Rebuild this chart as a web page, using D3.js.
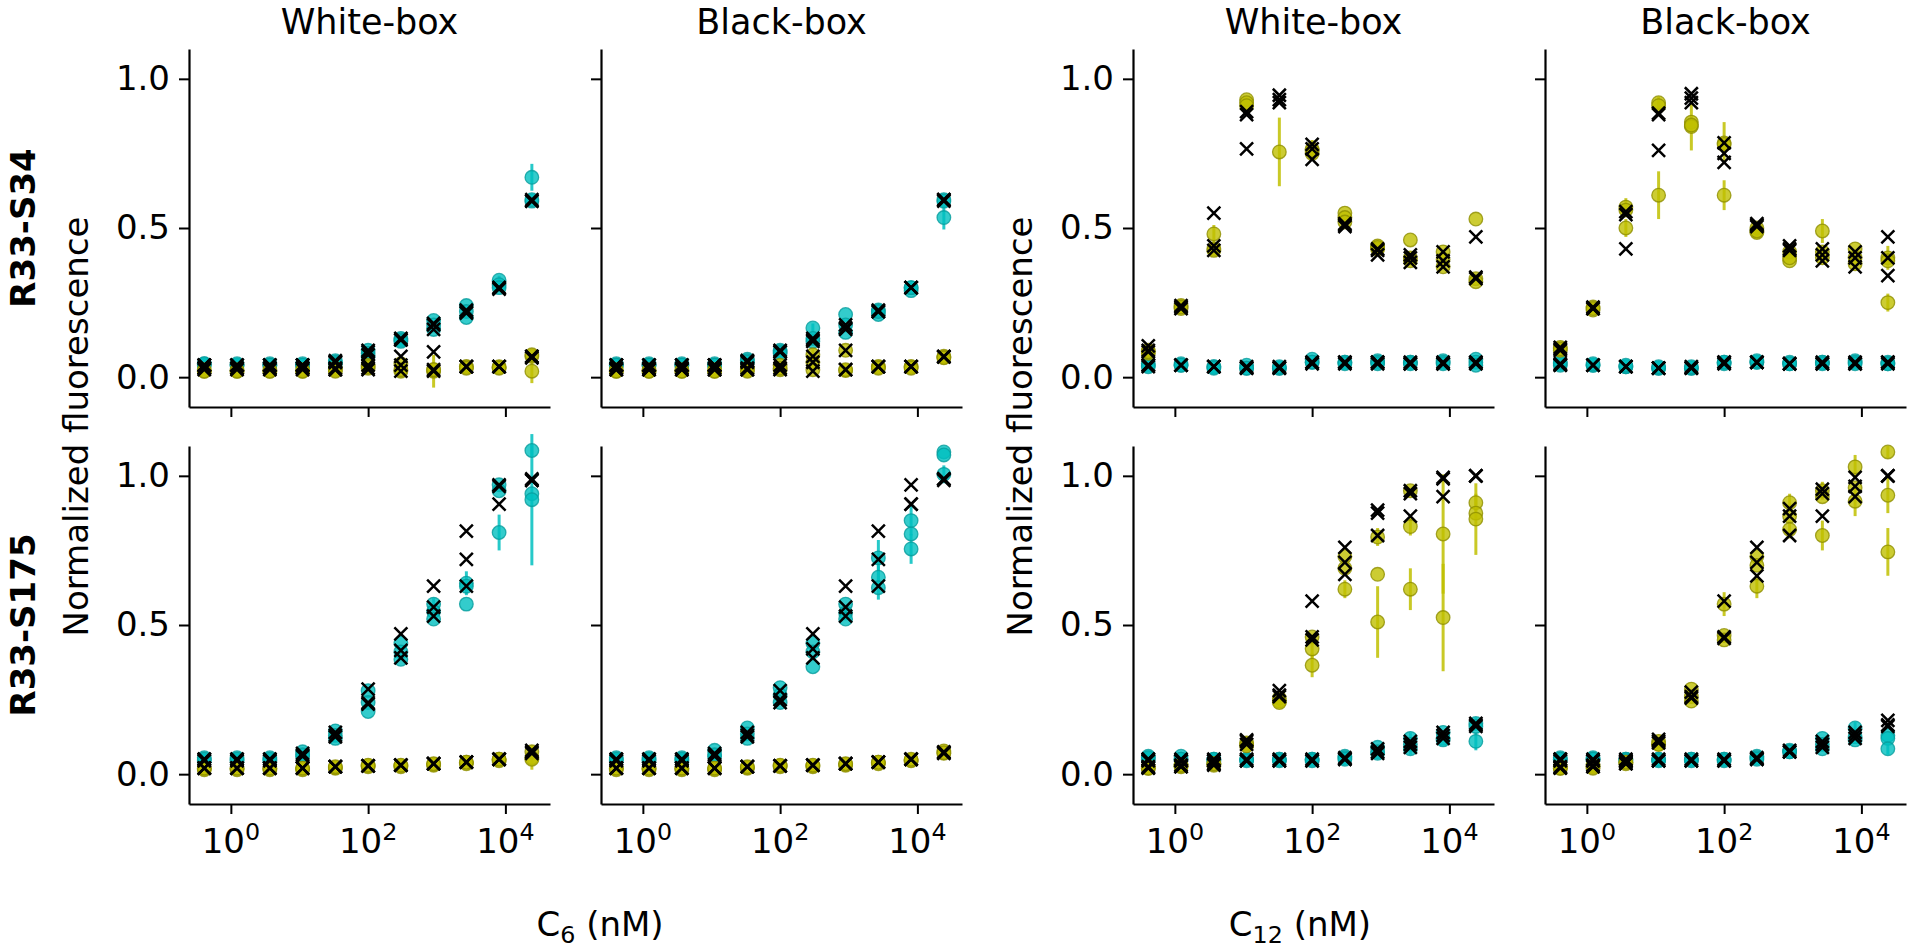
<!DOCTYPE html>
<html>
<head>
<meta charset="utf-8">
<script src="https://cdn.jsdelivr.net/npm/d3@7"></script>
<style>
  body { margin: 0; background: #fff; }
  text { font-family: "DejaVu Sans", sans-serif; fill: #000; }
</style>
</head>
<body>
<svg id="chart" width="1913" height="951"></svg>
<script>
// concentrations (nM), 3-fold dilution series
const conc = [0.41, 1.23, 3.7, 11.1, 33.3, 100, 300, 900, 2700, 8100, 24300];
const yTicks = [0, 0.5, 1.0];
const xTicks = [1, 100, 10000];
const colTitles = ["White-box", "Black-box", "White-box", "Black-box"];
const rowLabels = ["R33-S34", "R33-S175"];
const xLabels = [["C", "6"], ["C", "12"]];

// ---- R33-S34, C6, white-box
const s34c6wbCyan = [[0.045,0.04,0.045],[0.04,0.04,0.045],[0.045,0.04,0.04],[0.04,0.045,0.04],[0.055,0.05,0.045],[0.09,0.08,0.07],[0.13,0.125,0.12],[0.19,0.175,0.16],[0.24,0.22,0.20],[0.325,0.31,0.30],[0.67,0.59,0.595]];
const s34c6wbCyanPred = [[0.04,0.04,0.04],[0.04,0.04,0.04],[0.04,0.04,0.04],[0.04,0.04,0.04],[0.055,0.05,0.05],[0.09,0.085,0.075],[0.13,0.125,0.125],[0.18,0.175,0.16],[0.225,0.22,0.215],[0.3,0.3,0.295],[0.59,0.595,0.59]];
const s34c6wbCyanErr = [[10,0,0.045],[9,0,0.015]];
const s34c6wbYel = [[0.025,0.02,0.02],[0.02,0.025,0.02],[0.025,0.02,0.02],[0.02,0.025,0.02],[0.03,0.025,0.02],[0.04,0.03,0.035],[0.045,0.02,0.025],[0.02,0.025,0.025],[0.035,0.035,0.03],[0.033,0.035,0.03],[0.02,0.07,0.075]];
const s34c6wbYelPred = [[0.03,0.025,0.03],[0.03,0.025,0.03],[0.03,0.025,0.03],[0.03,0.025,0.03],[0.03,0.025,0.025],[0.03,0.04,0.025],[0.07,0.04,0.02],[0.085,0.025,0.02],[0.035,0.035,0.035],[0.035,0.035,0.035],[0.07,0.065,0.07]];
const s34c6wbYelErr = [[7,0,0.055],[10,0,0.04]];

// ---- R33-S34, C6, black-box
const s34c6bbCyan = [[0.045,0.04,0.04],[0.045,0.04,0.04],[0.045,0.04,0.04],[0.045,0.04,0.04],[0.06,0.055,0.05],[0.09,0.085,0.08],[0.165,0.12,0.13],[0.21,0.175,0.15],[0.225,0.21,0.22],[0.30,0.29,0.30],[0.595,0.59,0.535]];
const s34c6bbCyanPred = [[0.04,0.04,0.04],[0.04,0.04,0.04],[0.04,0.04,0.04],[0.04,0.04,0.04],[0.055,0.055,0.05],[0.09,0.085,0.085],[0.13,0.125,0.12],[0.175,0.165,0.16],[0.22,0.225,0.22],[0.3,0.3,0.3],[0.595,0.59,0.595]];
const s34c6bbCyanErr = [[10,2,0.04],[6,0,0.015]];
const s34c6bbYel = [[0.025,0.02,0.02],[0.025,0.02,0.02],[0.025,0.02,0.02],[0.025,0.02,0.02],[0.03,0.025,0.02],[0.04,0.025,0.03],[0.075,0.05,0.025],[0.09,0.022,0.025],[0.035,0.035,0.03],[0.035,0.035,0.03],[0.067,0.07,0.065]];
const s34c6bbYelPred = [[0.03,0.025,0.025],[0.03,0.025,0.025],[0.03,0.025,0.025],[0.03,0.025,0.025],[0.03,0.025,0.025],[0.03,0.04,0.025],[0.07,0.05,0.02],[0.09,0.025,0.025],[0.035,0.035,0.035],[0.035,0.035,0.035],[0.068,0.07,0.068]];
const s34c6bbYelErr = [[6,0,0.02]];

// ---- R33-S34, C12, white-box
const s34c12wbCyan = [[0.045,0.04,0.035],[0.045,0.04,0.04],[0.035,0.035,0.03],[0.04,0.03,0.03],[0.03,0.03,0.035],[0.06,0.05,0.05],[0.05,0.05,0.045],[0.055,0.05,0.045],[0.05,0.05,0.045],[0.055,0.05,0.045],[0.06,0.05,0.04]];
const s34c12wbCyanPred = [[0.04,0.04,0.035],[0.04,0.04,0.04],[0.035,0.035,0.035],[0.03,0.03,0.035],[0.03,0.03,0.035],[0.05,0.05,0.045],[0.05,0.05,0.045],[0.05,0.05,0.045],[0.05,0.045,0.045],[0.05,0.045,0.045],[0.05,0.045,0.05]];
const s34c12wbCyanErr = [];
const s34c12wbYel = [[0.09,0.08,0.085],[0.24,0.23,0.235],[0.48,0.43,0.425],[0.93,0.92,0.91],[0.755,null,null],[0.765,0.75,0.76],[0.55,0.535,0.52],[0.44,0.43,0.435],[0.46,0.40,0.39],[0.42,0.395,0.37],[0.53,0.33,0.32]];
const s34c12wbYelPred = [[0.105,0.09,0.085],[0.24,0.235,0.23],[0.55,0.44,0.425],[0.89,0.88,0.765],[0.945,0.92,0.93],[0.78,0.73,0.765],[0.515,0.505,0.51],[0.425,0.41,0.43],[0.41,0.40,0.385],[0.42,0.39,0.37],[0.47,0.335,0.33]];
const s34c12wbYelErr = [[4,0,0.115],[2,0,0.03],[5,0,0.03]];

// ---- R33-S34, C12, black-box
const s34c12bbCyan = [[0.045,0.04,0.05],[0.04,0.04,0.045],[0.035,0.035,0.04],[0.03,0.03,0.035],[0.03,0.03,0.035],[0.05,0.045,0.05],[0.05,0.05,0.055],[0.045,0.05,0.045],[0.05,0.05,0.045],[0.055,0.05,0.045],[0.05,0.045,0.045]];
const s34c12bbCyanPred = [[0.04,0.04,0.045],[0.04,0.04,0.04],[0.035,0.035,0.035],[0.03,0.03,0.03],[0.03,0.03,0.035],[0.05,0.05,0.045],[0.05,0.05,0.05],[0.045,0.045,0.045],[0.05,0.045,0.045],[0.05,0.045,0.045],[0.05,0.05,0.045]];
const s34c12bbCyanErr = [];
const s34c12bbYel = [[0.1,0.09,0.095],[0.235,0.225,0.23],[0.57,0.5,0.56],[0.92,0.61,0.91],[0.855,0.84,0.845],[0.785,0.61,0.78],[0.5,0.485,0.49],[0.42,0.39,0.40],[0.49,0.42,0.40],[0.43,0.40,0.38],[0.40,0.25,0.39]];
const s34c12bbYelPred = [[0.1,0.095,0.09],[0.235,0.23,0.23],[0.555,0.43,0.545],[0.88,0.76,0.885],[0.95,0.92,0.935],[0.785,0.72,0.75],[0.515,0.505,0.51],[0.44,0.425,0.43],[0.43,0.41,0.39],[0.42,0.40,0.37],[0.47,0.34,0.40]];
const s34c12bbYelErr = [[2,0,0.03],[2,1,0.03],[3,1,0.08],[3,0,0.02],[4,1,0.08],[5,0,0.07],[5,1,0.05],[6,1,0.02],[8,0,0.04],[10,0,0.04],[10,1,0.03]];

// ---- R33-S175, C6, white-box
const s175c6wbCyan = [[0.055,0.045,0.05],[0.055,0.045,0.05],[0.055,0.045,0.05],[0.075,0.06,0.065],[0.145,0.13,0.12],[0.28,0.24,0.21],[0.44,0.41,0.385],[0.57,0.545,0.52],[0.64,0.57,0.63],[0.97,0.95,0.81],[1.085,0.94,0.92]];
const s175c6wbCyanPred = [[0.05,0.05,0.045],[0.05,0.05,0.045],[0.05,0.05,0.045],[0.07,0.065,0.06],[0.14,0.13,0.125],[0.285,0.24,0.235],[0.47,0.415,0.39],[0.63,0.56,0.53],[0.815,0.72,0.63],[0.97,0.905,0.965],[0.985,0.985,0.99]];
const s175c6wbCyanErr = [[8,0,0.04],[9,2,0.06],[10,2,0.22],[10,0,0.02],[7,0,0.02]];
const s175c6wbYel = [[0.02,0.015,0.02],[0.02,0.015,0.02],[0.02,0.015,0.02],[0.02,0.015,0.02],[0.022,0.02,0.025],[0.028,0.025,0.03],[0.028,0.025,0.03],[0.033,0.03,0.035],[0.04,0.035,0.04],[0.05,0.045,0.05],[0.075,0.055,0.05]];
const s175c6wbYelPred = [[0.02,0.02,0.02],[0.02,0.02,0.02],[0.02,0.02,0.02],[0.02,0.02,0.02],[0.025,0.025,0.025],[0.028,0.028,0.028],[0.03,0.03,0.03],[0.035,0.035,0.035],[0.04,0.04,0.04],[0.05,0.05,0.05],[0.08,0.075,0.07]];
const s175c6wbYelErr = [[10,1,0.04]];

// ---- R33-S175, C6, black-box
const s175c6bbCyan = [[0.055,0.045,0.05],[0.055,0.045,0.05],[0.055,0.045,0.05],[0.08,0.06,0.065],[0.155,0.135,0.12],[0.29,0.265,0.24],[0.44,0.41,0.36],[0.57,0.54,0.52],[0.725,0.66,0.625],[0.85,0.805,0.755],[1.08,1.07,1.005]];
const s175c6bbCyanPred = [[0.05,0.05,0.045],[0.05,0.05,0.045],[0.05,0.05,0.045],[0.07,0.065,0.06],[0.14,0.13,0.125],[0.28,0.25,0.24],[0.47,0.42,0.39],[0.63,0.56,0.53],[0.815,0.72,0.63],[0.97,0.905,0.905],[0.985,0.99,0.99]];
const s175c6bbCyanErr = [[7,1,0.02],[8,0,0.06],[8,1,0.04],[8,2,0.04],[9,0,0.05],[9,2,0.05],[10,2,0.03]];
const s175c6bbYel = [[0.02,0.015,0.02],[0.02,0.015,0.02],[0.02,0.015,0.02],[0.02,0.015,0.02],[0.022,0.02,0.025],[0.028,0.025,0.03],[0.028,0.025,0.03],[0.033,0.03,0.035],[0.04,0.035,0.04],[0.047,0.045,0.05],[0.078,0.07,0.072]];
const s175c6bbYelPred = [[0.02,0.02,0.02],[0.02,0.02,0.02],[0.02,0.02,0.02],[0.02,0.02,0.02],[0.025,0.025,0.025],[0.028,0.028,0.028],[0.03,0.03,0.03],[0.035,0.035,0.035],[0.04,0.04,0.04],[0.05,0.05,0.05],[0.075,0.072,0.07]];
const s175c6bbYelErr = [];

// ---- R33-S175, C12, white-box
const s175c12wbCyan = [[0.06,0.05,0.055],[0.06,0.05,0.05],[0.05,0.045,0.05],[0.05,0.05,0.045],[0.05,0.05,0.045],[0.05,0.05,0.045],[0.06,0.055,0.05],[0.09,0.075,0.07],[0.12,0.1,0.085],[0.14,0.12,0.115],[0.17,0.16,0.11]];
const s175c12wbCyanPred = [[0.05,0.05,0.045],[0.05,0.045,0.045],[0.05,0.045,0.045],[0.05,0.045,0.045],[0.05,0.045,0.045],[0.05,0.045,0.045],[0.055,0.05,0.05],[0.085,0.075,0.07],[0.11,0.1,0.09],[0.14,0.13,0.12],[0.17,0.165,0.16]];
const s175c12wbCyanErr = [[8,0,0.02],[8,2,0.02],[10,2,0.03],[10,0,0.02]];
const s175c12wbYel = [[0.025,0.02,0.02],[0.028,0.025,0.03],[0.035,0.03,0.035],[0.105,0.1,0.095],[0.255,0.245,0.24],[0.46,0.42,0.365],[0.73,0.69,0.62],[0.795,0.67,0.51],[0.95,0.83,0.62],[0.805,0.525,null],[0.91,0.875,0.855]];
const s175c12wbYelPred = [[0.025,0.022,0.02],[0.03,0.025,0.025],[0.035,0.035,0.03],[0.115,0.11,0.1],[0.28,0.265,0.26],[0.58,0.46,0.45],[0.76,0.71,0.67],[0.885,0.875,0.8],[0.95,0.94,0.865],[0.99,0.995,0.93],[1.0,1.0,1.0]];
const s175c12wbYelErr = [[4,0,0.03],[5,1,0.03],[5,2,0.04],[6,2,0.03],[7,0,0.03],[7,2,0.12],[8,1,0.03],[8,2,0.07],[9,0,0.2],[9,1,0.18],[10,0,0.03],[10,2,0.12]];

// ---- R33-S175, C12, black-box
const s175c12bbCyan = [[0.055,0.05,0.05],[0.055,0.05,0.05],[0.05,0.05,0.045],[0.05,0.05,0.045],[0.05,0.05,0.045],[0.05,0.05,0.045],[0.06,0.055,0.05],[0.08,0.075,0.075],[0.12,0.1,0.085],[0.155,0.125,0.115],[0.13,0.12,0.085]];
const s175c12bbCyanPred = [[0.05,0.05,0.045],[0.05,0.045,0.045],[0.05,0.045,0.045],[0.05,0.045,0.045],[0.05,0.045,0.045],[0.05,0.045,0.045],[0.055,0.05,0.05],[0.08,0.075,0.075],[0.11,0.1,0.09],[0.14,0.13,0.12],[0.18,0.165,0.16]];
const s175c12bbCyanErr = [[9,0,0.02],[10,2,0.02]];
const s175c12bbYel = [[0.025,0.02,0.02],[0.03,0.025,0.02],[0.04,0.035,0.04],[0.11,0.1,0.1],[0.285,0.26,0.245],[0.57,0.465,0.45],[0.73,0.70,0.63],[0.91,0.865,0.82],[0.95,0.93,0.8],[1.03,0.96,0.915],[1.08,0.935,0.745]];
const s175c12bbYelPred = [[0.025,0.022,0.02],[0.03,0.025,0.025],[0.04,0.035,0.035],[0.117,0.11,0.105],[0.275,0.26,0.255],[0.58,0.46,0.455],[0.76,0.71,0.665],[0.89,0.865,0.8],[0.955,0.94,0.865],[0.995,0.965,0.93],[1.0,1.0,1.0]];
const s175c12bbYelErr = [[5,0,0.04],[6,2,0.04],[7,0,0.03],[7,2,0.03],[8,0,0.03],[8,2,0.05],[9,0,0.04],[9,2,0.05],[10,0,0.02],[10,1,0.06],[10,2,0.08]];

// panels: row, col -> data
const panels = [
  {row:0, col:0, cyan:[s34c6wbCyan, s34c6wbCyanPred, s34c6wbCyanErr], yel:[s34c6wbYel, s34c6wbYelPred, s34c6wbYelErr]},
  {row:0, col:1, cyan:[s34c6bbCyan, s34c6bbCyanPred, s34c6bbCyanErr], yel:[s34c6bbYel, s34c6bbYelPred, s34c6bbYelErr]},
  {row:0, col:2, cyan:[s34c12wbCyan, s34c12wbCyanPred, s34c12wbCyanErr], yel:[s34c12wbYel, s34c12wbYelPred, s34c12wbYelErr]},
  {row:0, col:3, cyan:[s34c12bbCyan, s34c12bbCyanPred, s34c12bbCyanErr], yel:[s34c12bbYel, s34c12bbYelPred, s34c12bbYelErr]},
  {row:1, col:0, cyan:[s175c6wbCyan, s175c6wbCyanPred, s175c6wbCyanErr], yel:[s175c6wbYel, s175c6wbYelPred, s175c6wbYelErr]},
  {row:1, col:1, cyan:[s175c6bbCyan, s175c6bbCyanPred, s175c6bbCyanErr], yel:[s175c6bbYel, s175c6bbYelPred, s175c6bbYelErr]},
  {row:1, col:2, cyan:[s175c12wbCyan, s175c12wbCyanPred, s175c12wbCyanErr], yel:[s175c12wbYel, s175c12wbYelPred, s175c12wbYelErr]},
  {row:1, col:3, cyan:[s175c12bbCyan, s175c12bbCyanPred, s175c12bbCyanErr], yel:[s175c12bbYel, s175c12bbYelPred, s175c12bbYelErr]}
];

// layout
const colLeft = [189, 601, 1133, 1545];
const rowTop = [49, 446];
const pw = 361, ph = 358;
const fs = 34;
const cyanCol = "#00bfbf", cyanEdge = "#069c9c";
const yelCol = "#bfbf00", yelEdge = "#8f8f00";

const svg = d3.select("#chart");

const x = d3.scaleLog().domain([Math.pow(10, -0.61), Math.pow(10, 4.65)]).range([0, pw]);
const y = d3.scaleLinear().domain([-0.1, 1.1]).range([ph, 0]);

// expand triplets into flat point lists
function points(means, preds, errs){
  let pts = [];
  means.forEach((trip, k) => {
    trip.forEach((v, r) => {
      if (v === null) return;
      let e = errs.find(d => d[0] == k && d[1] == r);
      pts.push({c: conc[k], v: v, e: e ? e[2] : 0});
    });
  });
  let pr = [];
  preds.forEach((trip, k) => trip.forEach(v => pr.push({c: conc[k], v: v})));
  return {pts, pr};
}

panels.forEach(p => {
  let g = svg.append("g")
    .attr("transform", `translate(${colLeft[p.col]},${rowTop[p.row]})`);

  // axes
  let ya = d3.axisLeft(y).tickValues(yTicks).tickSize(10).tickSizeOuter(0).tickPadding(9)
    .tickFormat(p.col % 2 == 0 ? d3.format(".1f") : "");
  let yg = g.append("g").call(ya);
  let xa = d3.axisBottom(x).tickValues(xTicks).tickSize(10).tickSizeOuter(0).tickFormat("");
  let xg = g.append("g").attr("transform", `translate(0,${ph})`).call(xa);
  [yg, xg].forEach(a => {
    a.select(".domain").attr("stroke-width", 2.2);
    a.selectAll(".tick line").attr("stroke-width", 2);
    a.selectAll("text").style("font-size", fs + "px").style("font-family", "DejaVu Sans");
  });
  if (p.row == 1) {
    xTicks.forEach(t => {
      let txt = g.append("text")
        .attr("x", x(t))
        .attr("y", ph + 49)
        .attr("text-anchor", "middle")
        .style("font-size", fs + "px");
      txt.append("tspan").text("10");
      txt.append("tspan").attr("dy", -13).style("font-size", (fs * 0.7) + "px")
        .text(String(Math.round(Math.log10(t))));
    });
  }

  // column titles
  if (p.row == 0) {
    g.append("text").attr("x", pw / 2).attr("y", -15)
      .attr("text-anchor", "middle").style("font-size", (fs + 1) + "px")
      .text(colTitles[p.col]);
  }

  let series = [
    Object.assign(points(...p.cyan), {fill: cyanCol, edge: cyanEdge}),
    Object.assign(points(...p.yel), {fill: yelCol, edge: yelEdge})
  ];

  series.forEach(s => {
    g.append("g").selectAll("line")
      .data(s.pts.filter(d => d.e > 0))
      .join("line")
      .attr("x1", d => x(d.c)).attr("x2", d => x(d.c))
      .attr("y1", d => y(d.v - d.e)).attr("y2", d => y(d.v + d.e))
      .attr("stroke", s.fill).attr("stroke-width", 3).attr("stroke-opacity", 0.85);
    g.append("g").selectAll("circle")
      .data(s.pts)
      .join("circle")
      .attr("cx", d => x(d.c)).attr("cy", d => y(d.v))
      .attr("r", 6.8)
      .attr("fill", s.fill).attr("fill-opacity", 0.8)
      .attr("stroke", s.edge).attr("stroke-opacity", 0.8).attr("stroke-width", 1.3);
  });

  series.forEach(s => {
    g.append("g").selectAll("path")
      .data(s.pr)
      .join("path")
      .attr("transform", d => `translate(${x(d.c)},${y(d.v)})`)
      .attr("d", "M-6.5,-6.5L6.5,6.5M-6.5,6.5L6.5,-6.5")
      .attr("stroke", "#000").attr("stroke-width", 2.5).attr("fill", "none");
  });
});

// row labels
rowLabels.forEach((lab, i) => {
  svg.append("text")
    .attr("transform", `translate(35,${rowTop[i] + ph / 2}) rotate(-90)`)
    .attr("text-anchor", "middle")
    .style("font-size", fs + "px").style("font-weight", "bold")
    .text(lab);
});

// y labels
[colLeft[0], colLeft[2]].forEach(l => {
  svg.append("text")
    .attr("transform", `translate(${l - 101},${(rowTop[0] + rowTop[1] + ph) / 2}) rotate(-90)`)
    .attr("text-anchor", "middle")
    .style("font-size", fs + "px")
    .text("Normalized fluorescence");
});

// x labels
[600, 1300].forEach((cx, i) => {
  let t = svg.append("text")
    .attr("x", cx).attr("y", 936)
    .attr("text-anchor", "middle")
    .style("font-size", fs + "px");
  t.append("tspan").text(xLabels[i][0]);
  t.append("tspan").attr("dy", 7).style("font-size", (fs * 0.7) + "px").text(xLabels[i][1]);
  t.append("tspan").attr("dy", -7).text(" (nM)");
});
</script>
</body>
</html>
